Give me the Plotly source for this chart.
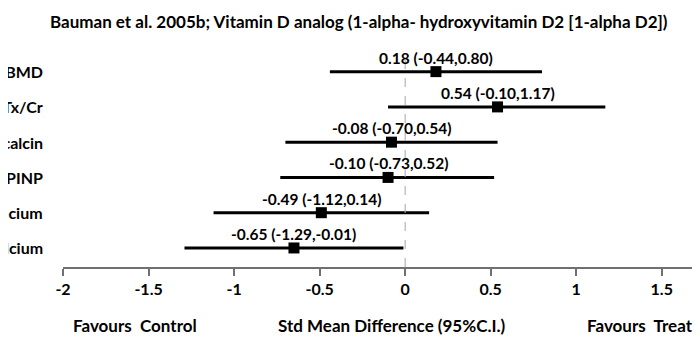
import plotly.graph_objects as go

labels = ["Lumbar spine imaging BMD", "Urine NTx/Cr", "Osteocalcin", "PINP", "Serum calcium", "Urine calcium"]
est = [0.18, 0.54, -0.08, -0.10, -0.49, -0.65]
lo = [-0.44, -0.10, -0.70, -0.73, -1.12, -1.29]
hi = [0.80, 1.17, 0.54, 0.52, 0.14, -0.01]
tick_vals = [-2, -1.5, -1, -0.5, 0, 0.5, 1, 1.5, 2]
tick_text = ["-2", "-1.5", "-1", "-0.5", "0", "0.5", "1", "1.5", "2"]
title = "Bauman et al. 2005b; Vitamin D analog (1-alpha- hydroxyvitamin D2 [1-alpha D2])"

n = len(labels)
ypos = [n - i for i in range(n)]
FONT = "Lato"
OFF = 8  # page body margin offset

W, H = 700, 358
plot_left, plot_top, plot_bottom = 63.3, 54, 266.7
ml = plot_left - OFF
mt = plot_top - OFF
mr = 0
mb = H - (plot_bottom - OFF)
pw = W - ml - mr
ph = H - mt - mb
x0_page = 405.3
unit = 171.0
xmax = (W + OFF - x0_page) / unit

def px(p):
    return (p - OFF - ml) / pw

def py(p):
    return 1 - (p - OFF - mt) / ph

fig = go.Figure()
fig.add_trace(go.Scatter(
    x=est, y=ypos, mode="markers",
    marker=dict(symbol="square", size=11, color="black"),
    error_x=dict(type="data", symmetric=False,
                 array=[h - e for h, e in zip(hi, est)],
                 arrayminus=[e - l for e, l in zip(est, lo)],
                 thickness=3, width=0, color="black"),
    hoverinfo="skip", showlegend=False,
))

for e, l, h, y in zip(est, lo, hi, ypos):
    fig.add_annotation(x=e, y=y, xref="x", yref="y", yshift=14, xanchor="center",
                       text=f"{e:.2f} ({l:.2f},{h:.2f})", showarrow=False,
                       font=dict(family=FONT, size=15.5, color="black", weight="bold"))

for lab, y in zip(labels, ypos):
    fig.add_annotation(x=px(45), y=y, xref="paper", yref="y",
                       xanchor="right", text=lab, showarrow=False,
                       font=dict(family=FONT, size=16, color="black", weight="bold"))

fig.add_shape(type="line", x0=0, x1=0, xref="x", y0=0, y1=1, yref="paper",
              line=dict(color="#a6a6a6", width=1, dash="dash"))

fig.add_annotation(x=px(359), y=py(22), xref="paper", yref="paper", xanchor="center", yanchor="middle",
                   text=title, showarrow=False,
                   font=dict(family=FONT, size=17, color="black", weight="bold"))

yb = py(325)
bfont = dict(family=FONT, size=17, color="black", weight="bold")
fig.add_annotation(x=px(135), y=yb, xref="paper", yref="paper", xanchor="center", yanchor="middle",
                   text="Favours  Control", showarrow=False, font=bfont)
fig.add_annotation(x=px(392), y=yb, xref="paper", yref="paper", xanchor="center", yanchor="middle",
                   text="Std Mean Difference (95%C.I.)", showarrow=False, font=bfont)
fig.add_annotation(x=px(585), y=yb, xref="paper", yref="paper", xanchor="left", yanchor="middle",
                   text="Favours  Treatment", showarrow=False, font=bfont)

fig.update_layout(
    width=W, height=H, margin=dict(l=ml, r=mr, t=mt, b=mb, autoexpand=False),
    paper_bgcolor="white", plot_bgcolor="white",
    xaxis=dict(range=[-2, xmax], tickvals=tick_vals, ticktext=tick_text,
               showgrid=False, zeroline=False, showline=True, linecolor="#707070", linewidth=2,
               ticks="outside", ticklen=7, tickwidth=1.5, tickcolor="#707070",
               tickfont=dict(family=FONT, size=16, color="black", weight="bold")),
    yaxis=dict(range=[0.46, 6.5], visible=False, showgrid=False, zeroline=False),
)

fig.write_html("out.html")
